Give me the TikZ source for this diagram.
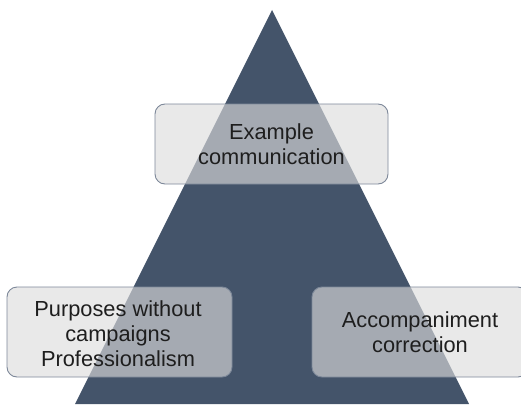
\documentclass[tikz,border=0pt]{standalone}
\usepackage{fontspec}
\setmainfont{Liberation Sans}
\definecolor{pyramid}{HTML}{44546A}
\definecolor{boxfill}{HTML}{DCDCDC}
\definecolor{boxline}{HTML}{7D8899}
\definecolor{labeltext}{HTML}{1E1E1E}
\tikzset{
  tier/.style={draw=boxline, line width=0.9pt, fill=boxfill, fill opacity=0.64,
    draw opacity=1, rounded corners=10pt},
  tierlabel/.style={align=center, text=labeltext, text opacity=1,
    font=\fontsize{21.8}{25}\selectfont, inner sep=0pt}
}
\begin{document}
\begin{tikzpicture}[x=1pt, y=-1pt]
  \useasboundingbox (0,0) rectangle (521,404);
  \begin{scope}
    \clip (0,0) rectangle (521,404);
    % pyramid
    \fill[pyramid] (272,10) -- (469,404) -- (75,404) -- cycle;
    % translucent tiers
    \draw[tier] (155,104) rectangle (388,184);
    \draw[tier] (7,287) rectangle (232,377);
    \draw[tier] (312,287) rectangle (528,377);
  \end{scope}
  \node[tierlabel] (top) at (271.5,144) {Example\\communication};
  \node[tierlabel] (left) at (118,334) {Purposes without\\campaigns\\Professionalism};
  \node[tierlabel] (right) at (420,332) {Accompaniment\\correction};
\end{tikzpicture}
\end{document}
